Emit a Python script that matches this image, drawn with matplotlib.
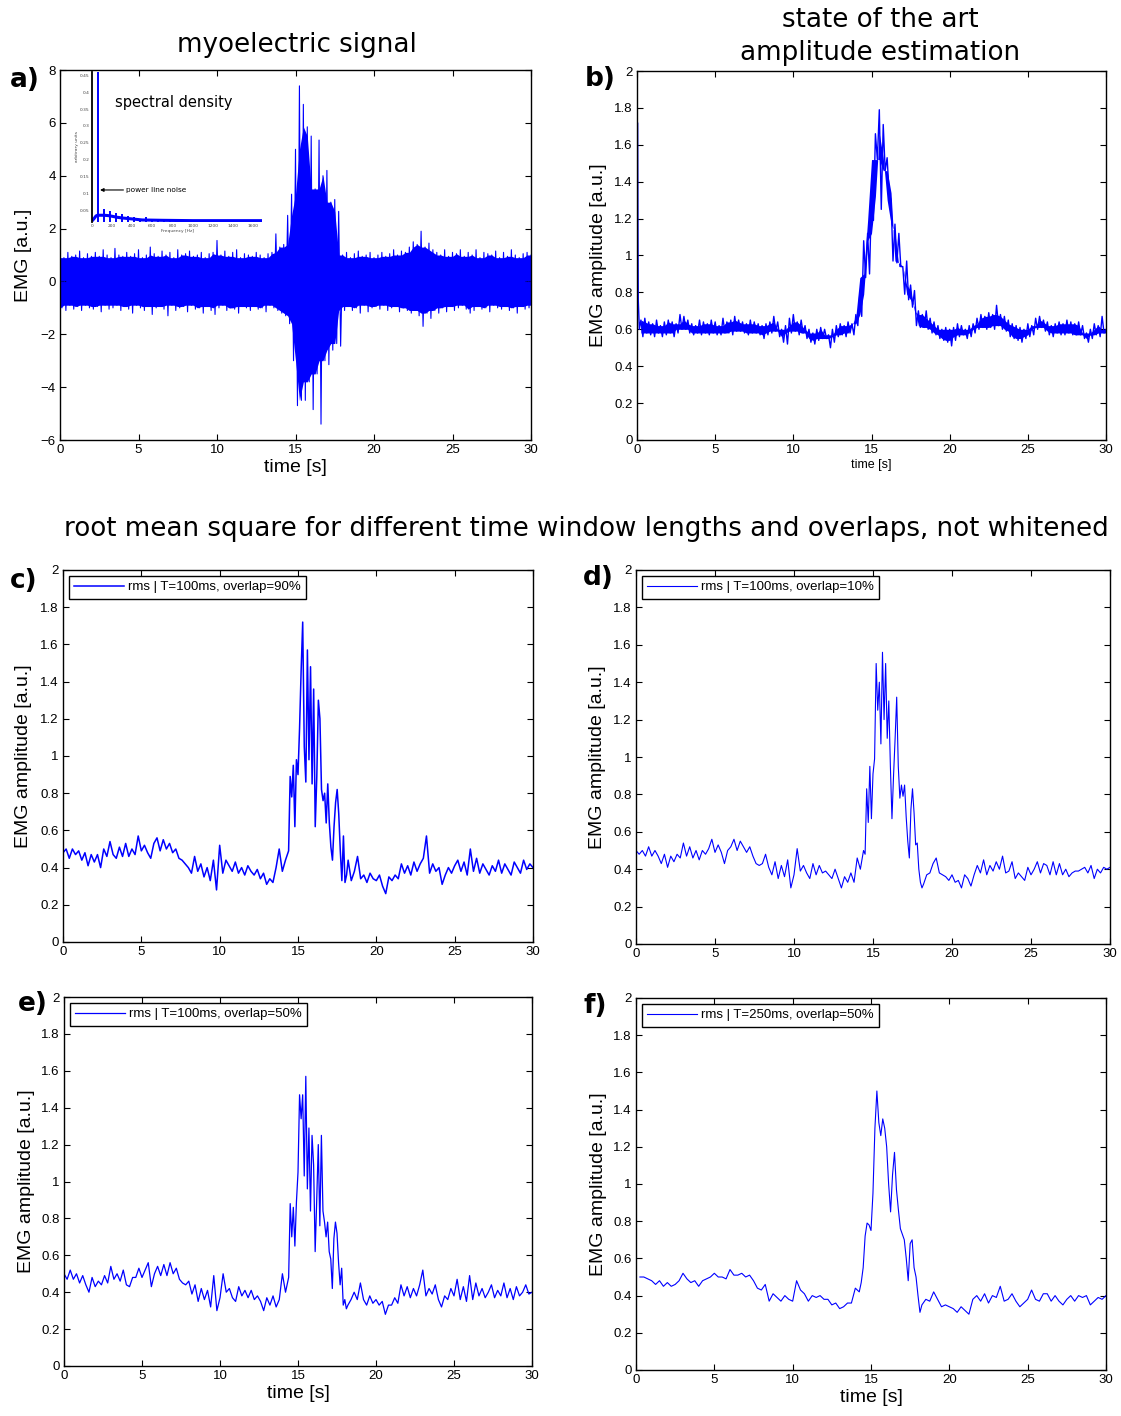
import numpy as np
import matplotlib
matplotlib.use("Agg")
import matplotlib.pyplot as plt
from matplotlib.ticker import FuncFormatter, MultipleLocator

W, H = 1121, 1416
BLUE = "#0000ff"
TICK_FONT = "Liberation Sans"

# === a) raw EMG, read as upper / lower envelope every 0.25 s ===
raw_t = np.linspace(0, 30, 121)
raw_upper = [1.2, 0.9, 1.1, 0.95, 1.0, 1.15, 0.9, 1.05, 0.95,
             1.1, 0.95, 1.2, 1.0, 0.9, 1.25, 1.0, 0.95,
             1.1, 0.95, 1.05, 1.2, 0.9, 1.0, 1.3, 1.05,
             0.95, 1.15, 1.0, 1.1, 0.9, 1.2, 1.0, 1.05,
             1.15, 0.95, 1.0, 1.1, 0.9, 1.05, 1.1, 1.55,
             1.0, 1.15, 0.95, 1.1, 1.2, 0.9, 1.05, 1.0,
             0.95, 1.1, 1.0, 0.9, 1.05, 1.1, 1.8, 1.3,
             1.4, 2.5, 3.3, 5.0, 7.4, 6.7, 5.85, 5.5,
             3.5, 5.35, 4.0, 4.2, 3.0, 3.1, 2.65, 1.0,
             1.1, 0.9, 1.05, 1.15, 0.95, 1.0, 1.1, 0.9,
             1.0, 1.1, 0.95, 1.05, 1.2, 1.0, 1.15, 1.1,
             1.3, 1.5, 1.4, 1.9, 1.3, 1.45, 1.2, 1.1,
             1.0, 1.2, 0.95, 1.1, 1.05, 1.2, 0.95, 1.1,
             1.0, 1.2, 0.9, 1.1, 1.05, 1.0, 1.15, 0.9,
             1.1, 0.95, 1.2, 1.0, 0.9, 1.05, 1.1, 1.0]
raw_lower = [-1.0, -1.1, -0.9, -1.05, -0.95, -1.1, -0.9, -1.0, -1.05,
             -0.95, -1.15, -0.9, -1.05, -1.0, -0.9, -1.1, -0.95,
             -1.05, -1.2, -0.9, -1.0, -1.1, -0.95, -1.25, -1.0,
             -0.95, -1.05, -1.3, -0.9, -1.1, -1.0, -0.95, -1.15,
             -0.9, -1.05, -1.0, -1.2, -0.95, -1.1, -1.25, -1.0,
             -0.9, -1.1, -1.0, -1.05, -1.2, -0.95, -1.0, -1.1,
             -0.95, -1.05, -1.0, -1.15, -0.9, -1.0, -1.1, -1.2,
             -1.3, -1.6, -3.0, -4.7, -4.5, -4.5, -3.8, -4.85,
             -3.5, -5.4, -3.0, -3.15, -2.6, -2.35, -2.45, -1.1,
             -0.95, -1.1, -1.0, -1.2, -0.9, -1.15, -1.0, -0.95,
             -1.05, -0.9, -1.1, -1.0, -0.95, -1.15, -1.0, -1.1,
             -1.2, -1.1, -1.3, -1.7, -1.2, -1.4, -1.1, -1.2,
             -1.0, -1.15, -0.95, -1.1, -1.0, -0.9, -1.05, -1.2,
             -1.1, -0.95, -1.05, -1.0, -1.15, -0.9, -1.0, -1.05,
             -0.95, -1.1, -1.0, -1.2, -0.95, -1.05, -1.0, -0.9]

# inset: spectral density
spec_f = [0, 20, 40, 55, 65, 80, 120, 160, 200, 250, 300, 400, 500, 700, 1000, 1400, 1690]
spec_p = [0.018, 0.025, 0.033, 0.035, 0.035, 0.035, 0.035, 0.034, 0.032, 0.029, 0.027, 0.024,
          0.021, 0.02, 0.019, 0.019, 0.019]
harm_f = [60, 120, 180, 240, 300, 360, 420, 480, 540, 600, 660, 720, 780, 840, 900]
harm_p = [0.47, 0.055, 0.047, 0.042, 0.04, 0.032, 0.03, 0.025, 0.031, 0.025, 0.023, 0.022,
          0.022, 0.021, 0.021]

# === b) state of the art amplitude estimate ===
b_head_t = [0.0, 0.03, 0.08, 0.15]
b_head_v = [0.0, 1.72, 0.76, 0.6]
b_t = np.linspace(0.25, 30, 120)
b_upper = [0.65, 0.66, 0.64, 0.63, 0.65, 0.62, 0.64, 0.65,
           0.64, 0.63, 0.68, 0.67, 0.65, 0.63, 0.62, 0.65,
           0.64, 0.63, 0.65, 0.64, 0.62, 0.66, 0.64, 0.65,
           0.67, 0.65, 0.64, 0.63, 0.65, 0.64, 0.63, 0.62,
           0.63, 0.64, 0.67, 0.64, 0.6, 0.62, 0.66, 0.68,
           0.64, 0.65, 0.62, 0.6, 0.58, 0.6, 0.61, 0.6,
           0.57, 0.6, 0.62, 0.63, 0.62, 0.64, 0.63, 0.68,
           0.79, 1.08, 1.12, 1.32, 1.66, 1.79, 1.71, 1.53,
           1.3, 1.17, 1.12, 0.94, 0.97, 0.84, 0.81, 0.7,
           0.68, 0.7, 0.66, 0.64, 0.62, 0.6, 0.61, 0.6,
           0.61, 0.63, 0.62, 0.6, 0.62, 0.63, 0.66, 0.68,
           0.67, 0.69, 0.68, 0.73, 0.68, 0.67, 0.65, 0.63,
           0.62, 0.61, 0.6, 0.63, 0.62, 0.66, 0.67, 0.65,
           0.64, 0.62, 0.63, 0.64, 0.63, 0.65, 0.64, 0.63,
           0.64, 0.62, 0.58, 0.6, 0.63, 0.62, 0.67, 0.6]
b_lower = [0.56, 0.58, 0.57, 0.56, 0.58, 0.56, 0.57, 0.58,
           0.56, 0.58, 0.6, 0.6, 0.58, 0.57, 0.58, 0.57,
           0.58, 0.57, 0.58, 0.57, 0.57, 0.58, 0.58, 0.57,
           0.59, 0.59, 0.58, 0.57, 0.58, 0.58, 0.57, 0.55,
           0.57, 0.58, 0.59, 0.56, 0.53, 0.52, 0.58, 0.59,
           0.57, 0.58, 0.55, 0.53, 0.52, 0.54, 0.55, 0.55,
           0.5, 0.53, 0.56, 0.57, 0.56, 0.58, 0.57, 0.62,
           0.67, 0.88, 0.9, 1.19, 1.52, 1.25, 1.46, 1.34,
           0.97, 0.96, 0.94, 0.79, 0.76, 0.72, 0.62, 0.61,
           0.61, 0.6, 0.58, 0.57, 0.55, 0.54, 0.53, 0.51,
           0.54, 0.56, 0.57, 0.55, 0.56, 0.58, 0.6, 0.61,
           0.6, 0.61, 0.6, 0.62, 0.6, 0.59, 0.56, 0.55,
           0.54, 0.53, 0.55, 0.56, 0.57, 0.6, 0.61, 0.59,
           0.57, 0.56, 0.58, 0.57, 0.57, 0.58, 0.57, 0.57,
           0.57, 0.55, 0.53, 0.55, 0.57, 0.56, 0.58, 0.54]

# === c, d, e: rms read every 0.2 s, every 0.1 s during the burst ===
rms_t = np.concatenate([np.linspace(0, 14.2, 72), np.linspace(14.4, 18.1, 38),
                        np.linspace(18.2, 30.0, 60)])

c_rms = [0.48, 0.5, 0.45, 0.5, 0.47, 0.49, 0.44, 0.48, 0.41, 0.47,
         0.43, 0.47, 0.4, 0.5, 0.46, 0.54, 0.47, 0.45, 0.51, 0.46,
         0.53, 0.46, 0.5, 0.47, 0.57, 0.49, 0.52, 0.48, 0.45, 0.53,
         0.56, 0.49, 0.55, 0.5, 0.53, 0.48, 0.5, 0.45, 0.44, 0.42,
         0.4, 0.37, 0.46, 0.38, 0.42, 0.35, 0.4, 0.33, 0.44, 0.28,
         0.52, 0.37, 0.44, 0.41, 0.38, 0.43, 0.37, 0.4, 0.36, 0.41,
         0.38, 0.36, 0.39, 0.34, 0.37, 0.31, 0.34, 0.32, 0.4, 0.5,
         0.38, 0.44,
         0.49, 0.89, 0.78, 0.95, 0.62, 0.98, 0.9, 1.15, 1.46, 1.72,
         1.05, 0.86, 1.57, 0.98, 1.48, 0.85, 1.36, 0.62, 0.89, 1.3,
         1.2, 0.82, 0.76, 0.8, 0.64, 0.85, 0.64, 0.51, 0.44, 0.62,
         0.75, 0.82, 0.69, 0.49, 0.33, 0.57, 0.32, 0.36,
         0.44, 0.33, 0.38, 0.46, 0.34, 0.36, 0.32, 0.37, 0.34, 0.33,
         0.36, 0.3, 0.26, 0.35, 0.33, 0.36, 0.34, 0.42, 0.37, 0.41,
         0.36, 0.43, 0.38, 0.42, 0.45, 0.57, 0.37, 0.42, 0.38, 0.4,
         0.31, 0.36, 0.4, 0.37, 0.41, 0.44, 0.38, 0.43, 0.36, 0.5,
         0.38, 0.45, 0.37, 0.42, 0.39, 0.36, 0.41, 0.38, 0.44, 0.37,
         0.42, 0.39, 0.36, 0.43, 0.4, 0.37, 0.44, 0.39, 0.42, 0.4]

d_rms = [0.5, 0.48, 0.5, 0.47, 0.52, 0.47, 0.5, 0.47, 0.43, 0.48,
         0.41, 0.47, 0.44, 0.48, 0.46, 0.54, 0.47, 0.52, 0.46, 0.5,
         0.45, 0.5, 0.48, 0.51, 0.56, 0.49, 0.53, 0.49, 0.43, 0.5,
         0.52, 0.56, 0.5, 0.55, 0.52, 0.49, 0.52, 0.47, 0.43, 0.42,
         0.43, 0.48, 0.41, 0.37, 0.44, 0.35, 0.42, 0.36, 0.45, 0.3,
         0.37, 0.51, 0.39, 0.42, 0.38, 0.35, 0.43, 0.37, 0.42, 0.38,
         0.39, 0.37, 0.35, 0.4, 0.35, 0.3, 0.36, 0.33, 0.38, 0.33,
         0.46, 0.4,
         0.5, 0.48, 0.83, 0.65, 0.95, 0.67, 0.91, 0.99, 1.5, 1.25,
         1.4, 1.07, 1.56, 1.2, 1.5, 1.1, 1.3, 0.95, 0.67, 0.9,
         1.1, 1.32, 0.95, 0.78, 0.85, 0.79, 0.85, 0.68, 0.55, 0.46,
         0.72, 0.83, 0.7, 0.53, 0.54, 0.4, 0.33, 0.3,
         0.32, 0.37, 0.38, 0.43, 0.46, 0.38, 0.37, 0.36, 0.34, 0.37,
         0.33, 0.34, 0.3, 0.37, 0.35, 0.31, 0.37, 0.42, 0.38, 0.45,
         0.37, 0.42, 0.39, 0.44, 0.4, 0.47, 0.38, 0.39, 0.44, 0.35,
         0.38, 0.36, 0.34, 0.41, 0.37, 0.4, 0.44, 0.38, 0.43, 0.42,
         0.37, 0.44, 0.37, 0.43, 0.37, 0.4, 0.36, 0.38, 0.39, 0.39,
         0.4, 0.41, 0.38, 0.42, 0.35, 0.4, 0.38, 0.41, 0.4, 0.41]

e_rms = [0.5, 0.47, 0.52, 0.47, 0.5, 0.45, 0.49, 0.44, 0.4, 0.48,
         0.43, 0.46, 0.44, 0.49, 0.45, 0.54, 0.47, 0.5, 0.46, 0.52,
         0.44, 0.43, 0.48, 0.48, 0.53, 0.48, 0.52, 0.56, 0.43, 0.5,
         0.54, 0.49, 0.55, 0.49, 0.56, 0.5, 0.53, 0.47, 0.45, 0.44,
         0.46, 0.39, 0.44, 0.35, 0.42, 0.36, 0.41, 0.32, 0.49, 0.3,
         0.37, 0.5, 0.4, 0.42, 0.37, 0.35, 0.43, 0.38, 0.41, 0.37,
         0.41, 0.36, 0.38, 0.35, 0.3, 0.37, 0.33, 0.38, 0.32, 0.36,
         0.5, 0.4,
         0.48, 0.88, 0.7, 0.86, 0.65, 0.89, 1.05, 1.47, 1.34, 1.47,
         1.03, 1.57, 0.96, 1.29, 0.84, 1.25, 1.09, 0.62, 0.9, 1.2,
         0.76, 1.25, 0.84, 0.78, 0.7, 0.78, 0.62, 0.58, 0.42, 0.69,
         0.78, 0.72, 0.56, 0.44, 0.53, 0.33, 0.36, 0.31,
         0.33, 0.36, 0.4, 0.36, 0.45, 0.36, 0.33, 0.38, 0.34, 0.36,
         0.33, 0.35, 0.28, 0.33, 0.33, 0.37, 0.34, 0.44, 0.38, 0.43,
         0.37, 0.42, 0.38, 0.44, 0.52, 0.38, 0.42, 0.39, 0.44, 0.36,
         0.32, 0.38, 0.36, 0.42, 0.38, 0.47, 0.36, 0.43, 0.35, 0.49,
         0.36, 0.45, 0.38, 0.42, 0.37, 0.4, 0.44, 0.37, 0.41, 0.38,
         0.45, 0.37, 0.42, 0.36, 0.43, 0.38, 0.4, 0.44, 0.39, 0.4]

# === f: rms 250 ms, read every 0.25 s, every 0.125 s during the burst ===
f_t = np.concatenate([np.linspace(0.25, 14.25, 57), np.linspace(14.375, 18.125, 31),
                      np.linspace(18.25, 30.0, 48)])
f_rms = [0.5, 0.5, 0.49, 0.48, 0.46, 0.48, 0.45, 0.47,
         0.45, 0.46, 0.48, 0.52, 0.49, 0.47, 0.48, 0.45,
         0.48, 0.49, 0.5, 0.52, 0.5, 0.5, 0.49, 0.54,
         0.51, 0.51, 0.52, 0.5, 0.51, 0.48, 0.44, 0.43,
         0.46, 0.37, 0.41, 0.39, 0.37, 0.4, 0.38, 0.37,
         0.48, 0.43, 0.41, 0.37, 0.4, 0.39, 0.4, 0.38,
         0.38, 0.35, 0.36, 0.33, 0.34, 0.36, 0.36, 0.44,
         0.42,
         0.47, 0.55, 0.72, 0.79, 0.78, 0.75, 0.95, 1.3, 1.5, 1.33,
         1.26, 1.35, 1.3, 1.2, 1.0, 0.85, 1.05, 1.17, 0.97, 0.86,
         0.76, 0.73, 0.7, 0.6, 0.48, 0.68, 0.7, 0.55, 0.5, 0.4,
         0.31,
         0.35, 0.38, 0.37, 0.42, 0.38, 0.34, 0.35, 0.34,
         0.33, 0.31, 0.34, 0.32, 0.3, 0.38, 0.4, 0.37,
         0.41, 0.36, 0.4, 0.39, 0.45, 0.37, 0.38, 0.41,
         0.37, 0.34, 0.36, 0.38, 0.43, 0.38, 0.37, 0.41,
         0.41, 0.37, 0.4, 0.37, 0.35, 0.38, 0.4, 0.37,
         0.4, 0.39, 0.4, 0.35, 0.37, 0.39, 0.38, 0.4]

legend_labels = {"c": "rms | T=100ms, overlap=90%", "d": "rms | T=100ms, overlap=10%",
                 "e": "rms | T=100ms, overlap=50%", "f": "rms | T=250ms, overlap=50%"}


def zigzag(t, hi, lo, dt):
    x = np.empty(2 * len(t))
    y = np.empty(2 * len(t))
    x[0::2] = t
    x[1::2] = np.asarray(t) + dt / 2
    y[0::2] = hi
    y[1::2] = lo
    return x, y


def core_band(hi, lo):
    # the solid part of a dense trace: what the neighbouring readings all share
    hi = np.pad(np.asarray(hi, float), 1, mode="edge")
    lo = np.pad(np.asarray(lo, float), 1, mode="edge")
    top = np.minimum(np.minimum(hi[:-2], hi[1:-1]), hi[2:])
    bot = np.maximum(np.maximum(lo[:-2], lo[1:-1]), lo[2:])
    return top, bot


def px_axes(left, top, right, bottom):
    return fig.add_axes([left / W, 1 - bottom / H, (right - left) / W, (bottom - top) / H])


def fmt(v, pos):
    return f"{v:g}".replace("-", "\u2212")


def style(ax, ymin, ymax, ystep, ylabel, ylab_x):
    ax.set_xlim(0, 30)
    ax.set_ylim(ymin, ymax)
    ax.xaxis.set_major_locator(MultipleLocator(5))
    ax.yaxis.set_major_locator(MultipleLocator(ystep))
    ax.xaxis.set_major_formatter(FuncFormatter(fmt))
    ax.yaxis.set_major_formatter(FuncFormatter(fmt))
    ax.tick_params(direction="in", top=True, right=True, length=4, width=0.8,
                   labelsize=9.5, pad=3)
    for lab in ax.get_xticklabels() + ax.get_yticklabels():
        lab.set_fontfamily(TICK_FONT)
    for sp in ax.spines.values():
        sp.set_linewidth(1.0)
    ax.set_ylabel(ylabel, fontsize=14, family=TICK_FONT)
    ax.yaxis.set_label_coords(ylab_x, 0.5)


def rms_legend(ax, key):
    leg = ax.legend(ax.get_lines(), [legend_labels[key]],
                    loc="upper left", fancybox=False, framealpha=1, edgecolor="black",
                    prop={"family": TICK_FONT, "size": 9.5}, handlelength=3.8,
                    borderaxespad=0.45, borderpad=0.4, handletextpad=0.3)
    leg.get_frame().set_linewidth(1.0)


fig = plt.figure(figsize=(W / 100, H / 100), dpi=100)

# --- a) ---
ax_a = px_axes(60, 70, 531, 440)
core_hi, core_lo = core_band(raw_upper, raw_lower)
ax_a.fill_between(raw_t, core_lo, core_hi, color=BLUE, lw=0)
xa, ya = zigzag(raw_t, raw_upper, raw_lower, 0.25)
ax_a.plot(xa, ya, color=BLUE, lw=0.8)
style(ax_a, -6, 8, 2, "EMG [a.u.]", -0.059)
ax_a.set_xlabel("time [s]", fontsize=14, family=TICK_FONT, labelpad=2)

ins = px_axes(92, 72, 262, 222)
ins.set_facecolor("none")
ins.plot(spec_f, spec_p, color=BLUE, lw=2.2, solid_capstyle="butt")
ins.vlines(harm_f, 0.015, harm_p, color=BLUE, lw=1.4)
ins.set_xlim(0, 1690)
ins.set_ylim(0.015, 0.46)
for side in ("top", "right", "bottom"):
    ins.spines[side].set_visible(False)
ins.spines["left"].set_linewidth(1.3)
ins.set_xticks(range(0, 1601, 200))
ins.set_yticks([0.05, 0.1, 0.15, 0.2, 0.25, 0.3, 0.35, 0.4, 0.45])
ins.set_yticklabels(["0.05", "0.1", "0.15", "0.2", "0.25", "0.3", "0.35", "0.4", "0.45"])
ins.tick_params(length=0, labelsize=3.2, pad=1.5, colors="#444444")
ins.set_xlabel("Frequency [Hz]", fontsize=3.2, labelpad=1, color="#444444")
ins.set_ylabel("arbitrary units", fontsize=3.2, labelpad=1, color="#444444")
ins.text(230, 0.37, "spectral density", fontsize=10.5, va="center")
ins.annotate("power line noise", xy=(80, 0.11), xytext=(340, 0.11), fontsize=5.3,
             va="center", arrowprops=dict(arrowstyle="-|>", color="black", lw=0.8,
                                          mutation_scale=5, shrinkA=0, shrinkB=0))

# --- b) ---
ax_b = px_axes(637, 71, 1106, 440)
b_hi, b_lo = core_band(b_upper, b_lower)
ax_b.fill_between(b_t, b_lo, b_hi, color=BLUE, lw=0)
xb, yb = zigzag(b_t, b_upper, b_lower, 0.25)
ax_b.plot(np.concatenate([b_head_t, xb]), np.concatenate([b_head_v, yb]), color=BLUE, lw=1.0)
style(ax_b, 0, 2, 0.2, "EMG amplitude [a.u.]", -0.064)
ax_b.set_xlabel("time [s]", fontsize=9, family=TICK_FONT, labelpad=2)

# --- c) .. f) ---
ax_c = px_axes(63, 570, 533, 942)
ax_c.plot(rms_t, c_rms, color=BLUE, lw=1.1)
style(ax_c, 0, 2, 0.2, "EMG amplitude [a.u.]", -0.066)
rms_legend(ax_c, "c")

ax_d = px_axes(636, 570, 1110, 944)
ax_d.plot(rms_t, d_rms, color=BLUE, lw=0.8)
style(ax_d, 0, 2, 0.2, "EMG amplitude [a.u.]", -0.063)
rms_legend(ax_d, "d")

ax_e = px_axes(64, 997, 532, 1366)
ax_e.plot(rms_t, e_rms, color=BLUE, lw=0.9)
style(ax_e, 0, 2, 0.2, "EMG amplitude [a.u.]", -0.062)
ax_e.set_xlabel("time [s]", fontsize=14, family=TICK_FONT, labelpad=2)
rms_legend(ax_e, "e")

ax_f = px_axes(636, 998, 1106, 1370)
ax_f.plot(f_t, f_rms, color=BLUE, lw=0.8)
style(ax_f, 0, 2, 0.2, "EMG amplitude [a.u.]", -0.062)
ax_f.set_xlabel("time [s]", fontsize=14, family=TICK_FONT, labelpad=2)
rms_legend(ax_f, "f")

# titles and panel letters
fig.text(297 / W, 1 - 45 / H, "myoelectric signal", fontsize=18.8, ha="center", va="center")
fig.text(880 / W, 1 - 20 / H, "state of the art", fontsize=18.8, ha="center", va="center")
fig.text(880 / W, 1 - 53 / H, "amplitude estimation", fontsize=18.8, ha="center", va="center")
fig.text(586 / W, 1 - 529 / H,
         "root mean square for different time window lengths and overlaps, not whitened",
         fontsize=18.8, ha="center", va="center")
for letter, (x, y) in {"a)": (25, 80), "b)": (600, 79), "c)": (24, 581),
                       "d)": (598, 578), "e)": (33, 1004), "f)": (595, 1006)}.items():
    fig.text(x / W, 1 - y / H, letter, fontsize=19, fontweight="bold", ha="center", va="center")

fig.savefig("out.png", dpi=100)
